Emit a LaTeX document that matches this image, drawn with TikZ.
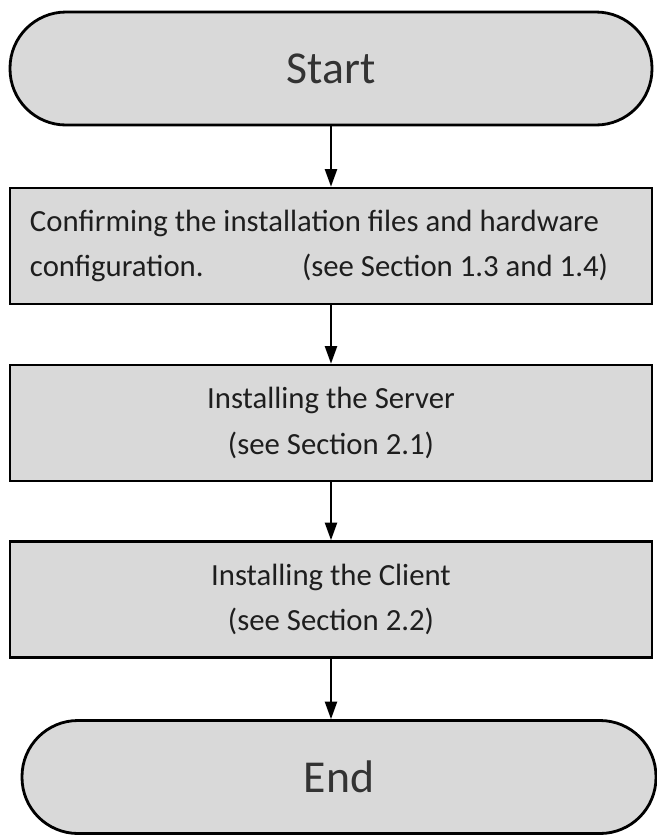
\documentclass[tikz,border=0pt]{standalone}
\usepackage{fontspec}
\setmainfont{Carlito}
\usetikzlibrary{arrows.meta}
\definecolor{BoxColor}{HTML}{D9D9D9}
\definecolor{TextColor}{HTML}{1E1E1E}
\definecolor{EndColor}{HTML}{333333}
\tikzstyle{terminal}=[rectangle,
                        minimum height=2.26cm,
                        draw=black,
                        line width=1.6pt,
                        fill=BoxColor,
                        text=EndColor,
                        font=\fontsize{26}{30}\selectfont,
                        rounded corners=1.12cm, ]
\tikzstyle{step_box}=[rectangle,
                        minimum width=12.84cm,
                        minimum height=2.32cm,
                        draw=black,
                        line width=1.6pt,
                        fill=BoxColor,
                        text=TextColor,
                        font=\fontsize{17.5}{26}\selectfont, ]
\tikzstyle{flow_arrow}=[line width=0.9pt, -{Triangle[width=7pt,length=10pt]}]

\begin{document}
\begin{tikzpicture}
    \useasboundingbox (0cm, 0cm) rectangle (13.12cm, -16.7cm);
    % ---------------------------------------------------------------------------------------------------------
    %  Start en stappen
    \node at (6.62cm, -1.37cm) (start) [terminal, minimum width=12.84cm] {Start};

    \node at (6.62cm, -4.92cm) (confirm) [step_box] {\parbox{12.04cm}{Confirming the installation files and hardware\\configuration.\hfill(see Section 1.3 and 1.4)\hspace*{0.48cm}}};
    \node at (6.62cm, -8.46cm) (server) [step_box, align=center] {Installing the Server\\(see Section 2.1)};
    \node at (6.62cm, -11.99cm) (client) [step_box, align=center] {Installing the Client\\(see Section 2.2)};

    % ---------------------------------------------------------------------------------------------------------
    %  Einde
    \node at (6.78cm, -15.54cm) (end) [terminal, minimum width=12.68cm] {End};

    \draw[flow_arrow] (start.south) -- (confirm.north);
    \draw[flow_arrow] (confirm.south) -- (server.north);
    \draw[flow_arrow] (server.south) -- (client.north);
    \draw[flow_arrow] (client.south) -- (end.north -| client.south);
\end{tikzpicture}
\end{document}
